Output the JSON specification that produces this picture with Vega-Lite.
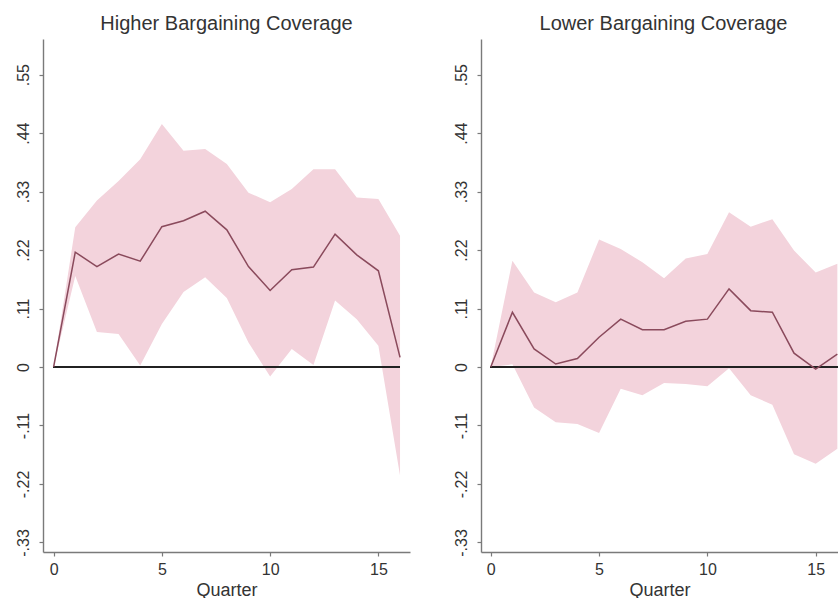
{
  "$schema": "https://vega.github.io/schema/vega-lite/v6.json",
  "padding": {"left": 14, "top": 14, "right": 0, "bottom": 0},
  "background": "white",
  "config": {
    "view": {"stroke": null},
    "font": "Liberation Sans",
    "concat": {"spacing": 71},
    "axis": {
      "grid": false,
      "domainColor": "#7a7a7a",
      "domainWidth": 1.4,
      "tickColor": "#7a7a7a",
      "tickWidth": 1.2,
      "tickSize": 4,
      "labelColor": "#333333",
      "titleColor": "#333333",
      "labelFont": "Liberation Sans",
      "titleFont": "Liberation Sans",
      "titleFontWeight": "normal"
    },
    "title": {"font": "Liberation Sans", "fontSize": 20, "fontWeight": "normal", "color": "#333333", "offset": 5}
  },
  "bounds": "flush",
  "datasets": {
    "higher": [
      {"q": 0, "est": 0, "lo": 0, "hi": 0},
      {"q": 1, "est": 0.216, "lo": 0.171, "hi": 0.263},
      {"q": 2, "est": 0.189, "lo": 0.066, "hi": 0.313},
      {"q": 3, "est": 0.2125, "lo": 0.062, "hi": 0.35},
      {"q": 4, "est": 0.199, "lo": 0.003, "hi": 0.391},
      {"q": 5, "est": 0.264, "lo": 0.081, "hi": 0.457},
      {"q": 6, "est": 0.275, "lo": 0.141, "hi": 0.407},
      {"q": 7, "est": 0.293, "lo": 0.169, "hi": 0.41},
      {"q": 8, "est": 0.258, "lo": 0.13, "hi": 0.382},
      {"q": 9, "est": 0.189, "lo": 0.046, "hi": 0.328},
      {"q": 10, "est": 0.144, "lo": -0.018, "hi": 0.31},
      {"q": 11, "est": 0.183, "lo": 0.034, "hi": 0.335},
      {"q": 12, "est": 0.188, "lo": 0.004, "hi": 0.372},
      {"q": 13, "est": 0.25, "lo": 0.125, "hi": 0.372},
      {"q": 14, "est": 0.211, "lo": 0.09, "hi": 0.319},
      {"q": 15, "est": 0.181, "lo": 0.04, "hi": 0.316},
      {"q": 16, "est": 0.018, "lo": -0.204, "hi": 0.247}
    ],
    "lower": [
      {"q": 0, "est": 0, "lo": 0, "hi": 0},
      {"q": 1, "est": 0.103, "lo": 0.005, "hi": 0.2},
      {"q": 2, "est": 0.034, "lo": -0.076, "hi": 0.14},
      {"q": 3, "est": 0.0056, "lo": -0.104, "hi": 0.122},
      {"q": 4, "est": 0.016, "lo": -0.107, "hi": 0.14},
      {"q": 5, "est": 0.056, "lo": -0.124, "hi": 0.24},
      {"q": 6, "est": 0.09, "lo": -0.041, "hi": 0.222},
      {"q": 7, "est": 0.07, "lo": -0.053, "hi": 0.197},
      {"q": 8, "est": 0.07, "lo": -0.03, "hi": 0.167},
      {"q": 9, "est": 0.086, "lo": -0.032, "hi": 0.204},
      {"q": 10, "est": 0.09, "lo": -0.036, "hi": 0.2125},
      {"q": 11, "est": 0.147, "lo": -0.0025, "hi": 0.291},
      {"q": 12, "est": 0.106, "lo": -0.053, "hi": 0.264},
      {"q": 13, "est": 0.103, "lo": -0.071, "hi": 0.278},
      {"q": 14, "est": 0.026, "lo": -0.164, "hi": 0.219},
      {"q": 15, "est": -0.004, "lo": -0.182, "hi": 0.178},
      {"q": 16, "est": 0.024, "lo": -0.154, "hi": 0.194}
    ]
  },
  "hconcat": [
    {
      "title": "Higher Bargaining Coverage",
      "width": 367,
      "height": 513,
      "data": {"name": "higher"},
      "encoding": {
        "x": {
          "field": "q", "type": "quantitative",
          "scale": {"domain": [-0.49, 16.46], "nice": false, "zero": false},
          "axis": {"values": [0, 5, 10, 15], "title": "Quarter", "labelFontSize": 16, "titleFontSize": 18, "labelPadding": 5, "titlePadding": 4}
        }
      },
      "layer": [
        {
          "mark": {"type": "area", "color": "#f3d3dc", "opacity": 1},
          "encoding": {
            "y": {
              "field": "lo", "type": "quantitative",
              "scale": {"domain": [-0.348, 0.617], "nice": false, "zero": false},
              "axis": {
                "values": [-0.33, -0.22, -0.11, 0, 0.11, 0.22, 0.33, 0.44, 0.55],
                "title": null,
                "labelAngle": -90,
                "labelAlign": "center",
                "labelBaseline": "bottom",
                "labelFontSize": 16,
                "labelPadding": 8,
                "labelExpr": "datum.value == 0 ? '0' : replace(replace(format(datum.value, '.2f'), '0.', '.'), '\u2212', '-')"
              }
            },
            "y2": {"field": "hi"}
          }
        },
        {
          "mark": {"type": "rule", "color": "#222222", "strokeWidth": 1.4},
          "encoding": {"x": {"datum": 0}, "x2": {"datum": 16}, "y": {"datum": 0}}
        },
        {
          "mark": {"type": "line", "color": "#8a4a5c", "strokeWidth": 1.5},
          "encoding": {"y": {"field": "est", "type": "quantitative"}}
        }
      ]
    },
    {
      "title": {"text": "Lower Bargaining Coverage", "dx": 4},
      "width": 357,
      "height": 513,
      "data": {"name": "lower"},
      "encoding": {
        "x": {
          "field": "q", "type": "quantitative",
          "scale": {"domain": [-0.45, 16.03], "nice": false, "zero": false},
          "axis": {"values": [0, 5, 10, 15], "title": "Quarter", "labelFontSize": 16, "titleFontSize": 18, "labelPadding": 5, "titlePadding": 4}
        }
      },
      "layer": [
        {
          "mark": {"type": "area", "color": "#f3d3dc", "opacity": 1, "clip": true},
          "encoding": {
            "y": {
              "field": "lo", "type": "quantitative",
              "scale": {"domain": [-0.348, 0.617], "nice": false, "zero": false},
              "axis": {
                "values": [-0.33, -0.22, -0.11, 0, 0.11, 0.22, 0.33, 0.44, 0.55],
                "title": null,
                "labelAngle": -90,
                "labelAlign": "center",
                "labelBaseline": "bottom",
                "labelFontSize": 16,
                "labelPadding": 8,
                "labelExpr": "datum.value == 0 ? '0' : replace(replace(format(datum.value, '.2f'), '0.', '.'), '\u2212', '-')"
              }
            },
            "y2": {"field": "hi"}
          }
        },
        {
          "mark": {"type": "rule", "color": "#222222", "strokeWidth": 1.4, "clip": true},
          "encoding": {"x": {"datum": 0}, "x2": {"datum": 16}, "y": {"datum": 0}}
        },
        {
          "mark": {"type": "line", "color": "#8a4a5c", "strokeWidth": 1.5, "clip": true},
          "encoding": {"y": {"field": "est", "type": "quantitative"}}
        }
      ]
    }
  ]
}
